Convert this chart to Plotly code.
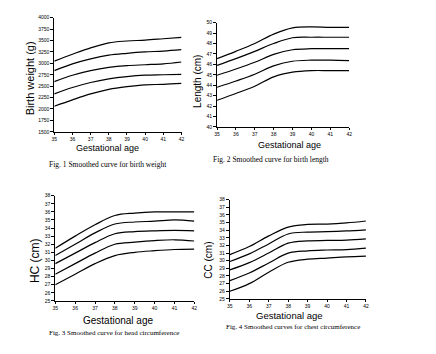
import plotly.graph_objects as go

ages = [35, 36, 37, 38, 39, 40, 41, 42]

bw_curves = [
    [3050, 3200, 3340, 3450, 3490, 3510, 3540, 3570],
    [2840, 2990, 3100, 3180, 3220, 3250, 3270, 3300],
    [2600, 2740, 2840, 2910, 2950, 2970, 2990, 3030],
    [2330, 2470, 2580, 2660, 2710, 2740, 2750, 2760],
    [2060, 2200, 2330, 2430, 2490, 2530, 2540, 2560],
]
len_curves = [
    [46.55, 47.25, 48.0, 48.9, 49.5, 49.6, 49.55, 49.55],
    [45.9, 46.55, 47.25, 48.0, 48.55, 48.6, 48.6, 48.6],
    [44.95, 45.55, 46.2, 46.95, 47.4, 47.5, 47.5, 47.5],
    [43.8, 44.4, 45.05, 45.85, 46.3, 46.4, 46.4, 46.35],
    [42.55, 43.2, 43.9, 44.8, 45.25, 45.4, 45.4, 45.4],
]
hc_curves = [
    [31.5, 33.0, 34.4, 35.55, 35.85, 36.0, 36.0, 36.0],
    [30.6, 32.0, 33.4, 34.5, 34.75, 34.85, 35.0, 34.85],
    [29.6, 30.9, 32.2, 33.3, 33.55, 33.65, 33.7, 33.65],
    [28.3, 29.6, 30.9, 32.0, 32.25, 32.45, 32.55, 32.4],
    [27.0, 28.3, 29.6, 30.6, 31.0, 31.2, 31.35, 31.4],
]
cc_curves = [
    [30.8, 31.85, 33.25, 34.4, 34.75, 34.8, 34.95, 35.2],
    [29.9, 30.9, 32.2, 33.5, 33.75, 33.8, 33.9, 34.05],
    [28.8, 29.75, 31.0, 32.3, 32.6, 32.65, 32.7, 32.85],
    [27.4, 28.4, 29.7, 31.0, 31.3, 31.4, 31.45, 31.65],
    [26.0, 27.0, 28.5, 29.8, 30.2, 30.35, 30.5, 30.6],
]

bw_ticks = list(range(1500, 4001, 250))
len_ticks = list(range(40, 51))
hc_ticks = list(range(25, 39))
cc_ticks = list(range(25, 39))

W, H = 436, 354

def px(x):
    return x / W

def py(y):
    return 1 - y / H

panels = [
    (bw_curves, bw_ticks, (52, 181, 15, 131)),
    (len_curves, len_ticks, (217, 351, 20, 126)),
    (hc_curves, hc_ticks, (53, 194, 196, 303)),
    (cc_curves, cc_ticks, (230, 368, 200, 301)),
]

fig = go.Figure()
layout = {}
for i, (curves, yt, (x0, x1, yt_px, yb_px)) in enumerate(panels):
    n = "" if i == 0 else str(i + 1)
    for c in curves:
        fig.add_trace(go.Scatter(
            x=ages, y=c, mode="lines", line=dict(color="black", width=1.2, shape="spline", smoothing=1.0),
            xaxis="x" + n, yaxis="y" + n, showlegend=False, hoverinfo="skip"))
    layout["xaxis" + n] = dict(
        domain=[px(x0), px(x1)], anchor="y" + n, range=[35, 42], tickvals=ages,
        showline=True, linecolor="black", linewidth=1, ticks="outside", ticklen=2,
        tickcolor="black", tickfont=dict(size=5, family="Arial", color="black"),
        showgrid=False, zeroline=False, fixedrange=True)
    layout["yaxis" + n] = dict(
        domain=[py(yb_px), py(yt_px)], anchor="x" + n, range=[yt[0], yt[-1]], tickvals=yt,
        showline=True, linecolor="black", linewidth=1, ticks="outside", ticklen=3,
        tickcolor="black", tickfont=dict(size=5, family="Arial", color="black"),
        showgrid=False, zeroline=False, fixedrange=True)

annotations = []
def ann(text, x, y, size, family, angle=0):
    annotations.append(dict(text=text, x=px(x), y=py(y), xref="paper", yref="paper",
                            showarrow=False, textangle=angle,
                            font=dict(size=size, family=family, color="black"),
                            xanchor="center", yanchor="middle"))

ann("Birth weight (g)", 27, 77, 11, "Arial", -90)
ann("Length (cm)", 197, 80, 10, "Arial", -90)
ann("HC (cm)", 32, 262, 12, "Arial", -90)
ann("CC (cm)", 208, 262, 10, "Arial", -90)

ann("Gestational age", 106, 147, 9, "Arial")
ann("Gestational age", 291, 144, 9, "Arial")
ann("Gestational age", 117, 323, 10, "Arial")
ann("Gestational age", 291, 318, 9.5, "Arial")

serif = "Liberation Serif"
ann("Fig. 1 Smoothed curve for birth weight", 106, 164, 7.5, serif)
ann("Fig. 2 Smoothed curve for birth length", 272, 159, 7.5, serif)
ann("Fig. 3 Smoothed curve for head circumference", 113, 336, 7, serif)
ann("Fig. 4 Smoothed curves for chest circumference", 294, 330, 7, serif)

fig.update_layout(
    width=W, height=H, margin=dict(l=0, r=0, t=0, b=0),
    paper_bgcolor="white", plot_bgcolor="white",
    annotations=annotations, **layout)

fig.write_html("out.html")
